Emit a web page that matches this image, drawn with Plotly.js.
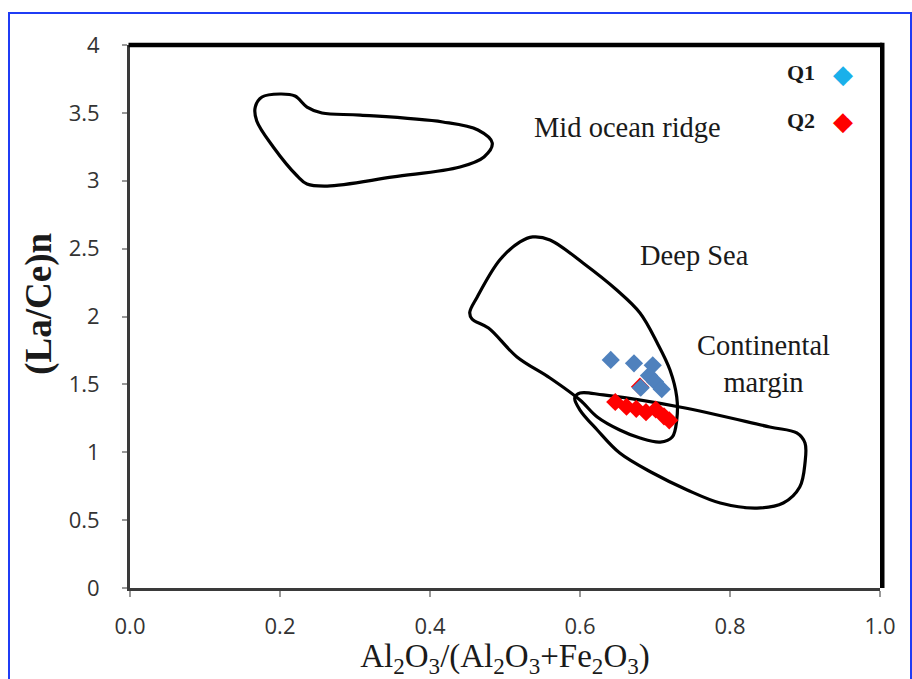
<!DOCTYPE html>
<html>
<head>
<meta charset="utf-8">
<script src="https://cdn.plot.ly/plotly-3.0.1.min.js"></script>
<style>
  html, body { margin: 0; padding: 0; background: #fff; }
  #chart { width: 912px; height: 679px; position: relative; }
  #frame { position: absolute; left: 8px; top: 12px; width: 904px; height: 700px;
           box-sizing: border-box; border: 2px solid #1f3cf5; pointer-events: none; }
</style>
</head>
<body>
<div id="chart"></div>
<div id="frame"></div>
<script>
// Field outlines (x = Al2O3/(Al2O3+Fe2O3), y = (La/Ce)n)
const midRidgeX = [0.167, 0.176, 0.200, 0.220, 0.236, 0.256, 0.307, 0.417, 0.464, 0.483, 0.472, 0.440, 0.351, 0.263, 0.236, 0.223, 0.191, 0.169, 0.167];
const midRidgeY = [3.543, 3.617, 3.639, 3.624, 3.543, 3.499, 3.484, 3.433, 3.374, 3.278, 3.175, 3.101, 3.028, 2.961, 2.976, 3.035, 3.249, 3.440, 3.543];

const deepSeaX = [0.537, 0.560, 0.604, 0.649, 0.680, 0.703, 0.720, 0.729, 0.729, 0.723, 0.707, 0.680, 0.653, 0.623, 0.600, 0.560, 0.516, 0.478, 0.456, 0.453, 0.463, 0.493, 0.520, 0.537];
const deepSeaY = [2.586, 2.564, 2.394, 2.195, 2.026, 1.805, 1.606, 1.407, 1.238, 1.112, 1.075, 1.105, 1.164, 1.260, 1.385, 1.547, 1.702, 1.915, 1.982, 2.030, 2.144, 2.416, 2.549, 2.586];

const contMarginX = [0.600, 0.631, 0.733, 0.853, 0.889, 0.900, 0.900, 0.893, 0.871, 0.836, 0.787, 0.743, 0.697, 0.653, 0.623, 0.600, 0.593, 0.600];
const contMarginY = [1.436, 1.422, 1.333, 1.186, 1.142, 1.068, 0.921, 0.744, 0.626, 0.589, 0.626, 0.722, 0.847, 0.994, 1.164, 1.311, 1.400, 1.436];

// Samples
const q1X = [0.641, 0.672, 0.697, 0.692, 0.700, 0.681, 0.709];
const q1Y = [1.680, 1.655, 1.640, 1.565, 1.520, 1.475, 1.465];
const q2X = [0.680, 0.647, 0.662, 0.675, 0.688, 0.701, 0.712, 0.719];
const q2Y = [1.483, 1.370, 1.335, 1.320, 1.295, 1.315, 1.265, 1.235];

// Labels
const xTickVals = [0, 0.2, 0.4, 0.6, 0.8, 1.0];
const yTickVals = [0, 0.5, 1, 1.5, 2, 2.5, 3, 3.5, 4];
const fieldNames = ["Mid ocean ridge", "Deep Sea", "Continental<br>margin"];
const seriesNames = ["Q1", "Q2"];
const yTitle = "(La/Ce)n";

const outline = {color: "#000", width: 3.2, shape: "spline", smoothing: 1};
const traces = [
  {x: midRidgeX, y: midRidgeY, mode: "lines", line: outline, hoverinfo: "skip", showlegend: false},
  {x: deepSeaX, y: deepSeaY, mode: "lines", line: outline, hoverinfo: "skip", showlegend: false},
  {x: contMarginX, y: contMarginY, mode: "lines", line: outline, hoverinfo: "skip", showlegend: false},
  {x: q2X, y: q2Y, mode: "markers", name: seriesNames[1],
   marker: {symbol: "diamond", size: 14, color: "#ff0000", line: {width: 0}}, showlegend: false},
  {x: q1X, y: q1Y, mode: "markers", name: seriesNames[0],
   marker: {symbol: "diamond", size: 14, color: "#4f81bd", line: {width: 0}}, showlegend: false}
];

const serif = "Liberation Serif, Times New Roman, serif";
const sans = "Open Sans, Liberation Sans, sans-serif";
const annFont = {family: serif, size: 28.5, color: "#1a1a1a"};

const layout = {
  width: 912, height: 679,
  margin: {l: 130, r: 32, t: 45, b: 91},
  paper_bgcolor: "#fff", plot_bgcolor: "#fff",
  showlegend: false,
  xaxis: {
    range: [0, 1], tickvals: xTickVals, tickformat: ".1f",
    showgrid: false, zeroline: false,
    showline: true, linecolor: "#3a3a3a", linewidth: 3,
    ticks: "outside", ticklen: 6, tickwidth: 2, tickcolor: "#999",
    ticklabelstandoff: 11,
    tickfont: {family: sans, size: 22, color: "#333"},
    title: {text: "Al<sub>2</sub>O<sub>3</sub>/(Al<sub>2</sub>O<sub>3</sub>+Fe<sub>2</sub>O<sub>3</sub>)",
            font: {family: serif, size: 33, color: "#1a1a1a"}, standoff: 6}
  },
  yaxis: {
    range: [0, 4], tickvals: yTickVals,
    showgrid: false, zeroline: false,
    showline: true, linecolor: "#3a3a3a", linewidth: 3,
    ticks: "outside", ticklen: 5, tickwidth: 2, tickcolor: "#999",
    ticklabelstandoff: 18,
    tickfont: {family: sans, size: 22, color: "#333"}
  },
  shapes: [
    {type: "line", xref: "paper", yref: "paper", x0: -0.002, x1: 1.003, y0: 1, y1: 1, line: {color: "#000", width: 4.5}},
    {type: "line", xref: "paper", yref: "paper", x0: 1.003, x1: 1.003, y0: 0, y1: 1.004, line: {color: "#000", width: 4.5}}
  ],
  annotations: [
    {xref: "paper", yref: "paper", x: -0.121, y: 0.524, xanchor: "center", yanchor: "middle",
     text: "<b>" + yTitle + "</b>", textangle: -90, showarrow: false,
     font: {family: serif, size: 37, color: "#1a1a1a"}},
    {x: 0.663, y: 3.389, text: fieldNames[0], showarrow: false, font: annFont},
    {x: 0.753, y: 2.446, text: fieldNames[1], showarrow: false, font: annFont},
    {x: 0.844, y: 1.650, text: fieldNames[2], showarrow: false, font: annFont},
    {x: 0.895, y: 3.794, text: "<b>" + seriesNames[0] + "</b>", showarrow: false, font: {family: serif, size: 22, color: "#1a1a1a"}},
    {x: 0.895, y: 3.447, text: "<b>" + seriesNames[1] + "</b>", showarrow: false, font: {family: serif, size: 22, color: "#1a1a1a"}},
    {x: 0.951, y: 3.786, text: "◆", showarrow: false, font: {family: "DejaVu Sans", size: 26, color: "#1ab0ea"}},
    {x: 0.951, y: 3.440, text: "◆", showarrow: false, font: {family: "DejaVu Sans", size: 26, color: "#ff0000"}}
  ]
};

Plotly.newPlot("chart", traces, layout, {staticPlot: true, displayModeBar: false});
</script>
</body>
</html>
